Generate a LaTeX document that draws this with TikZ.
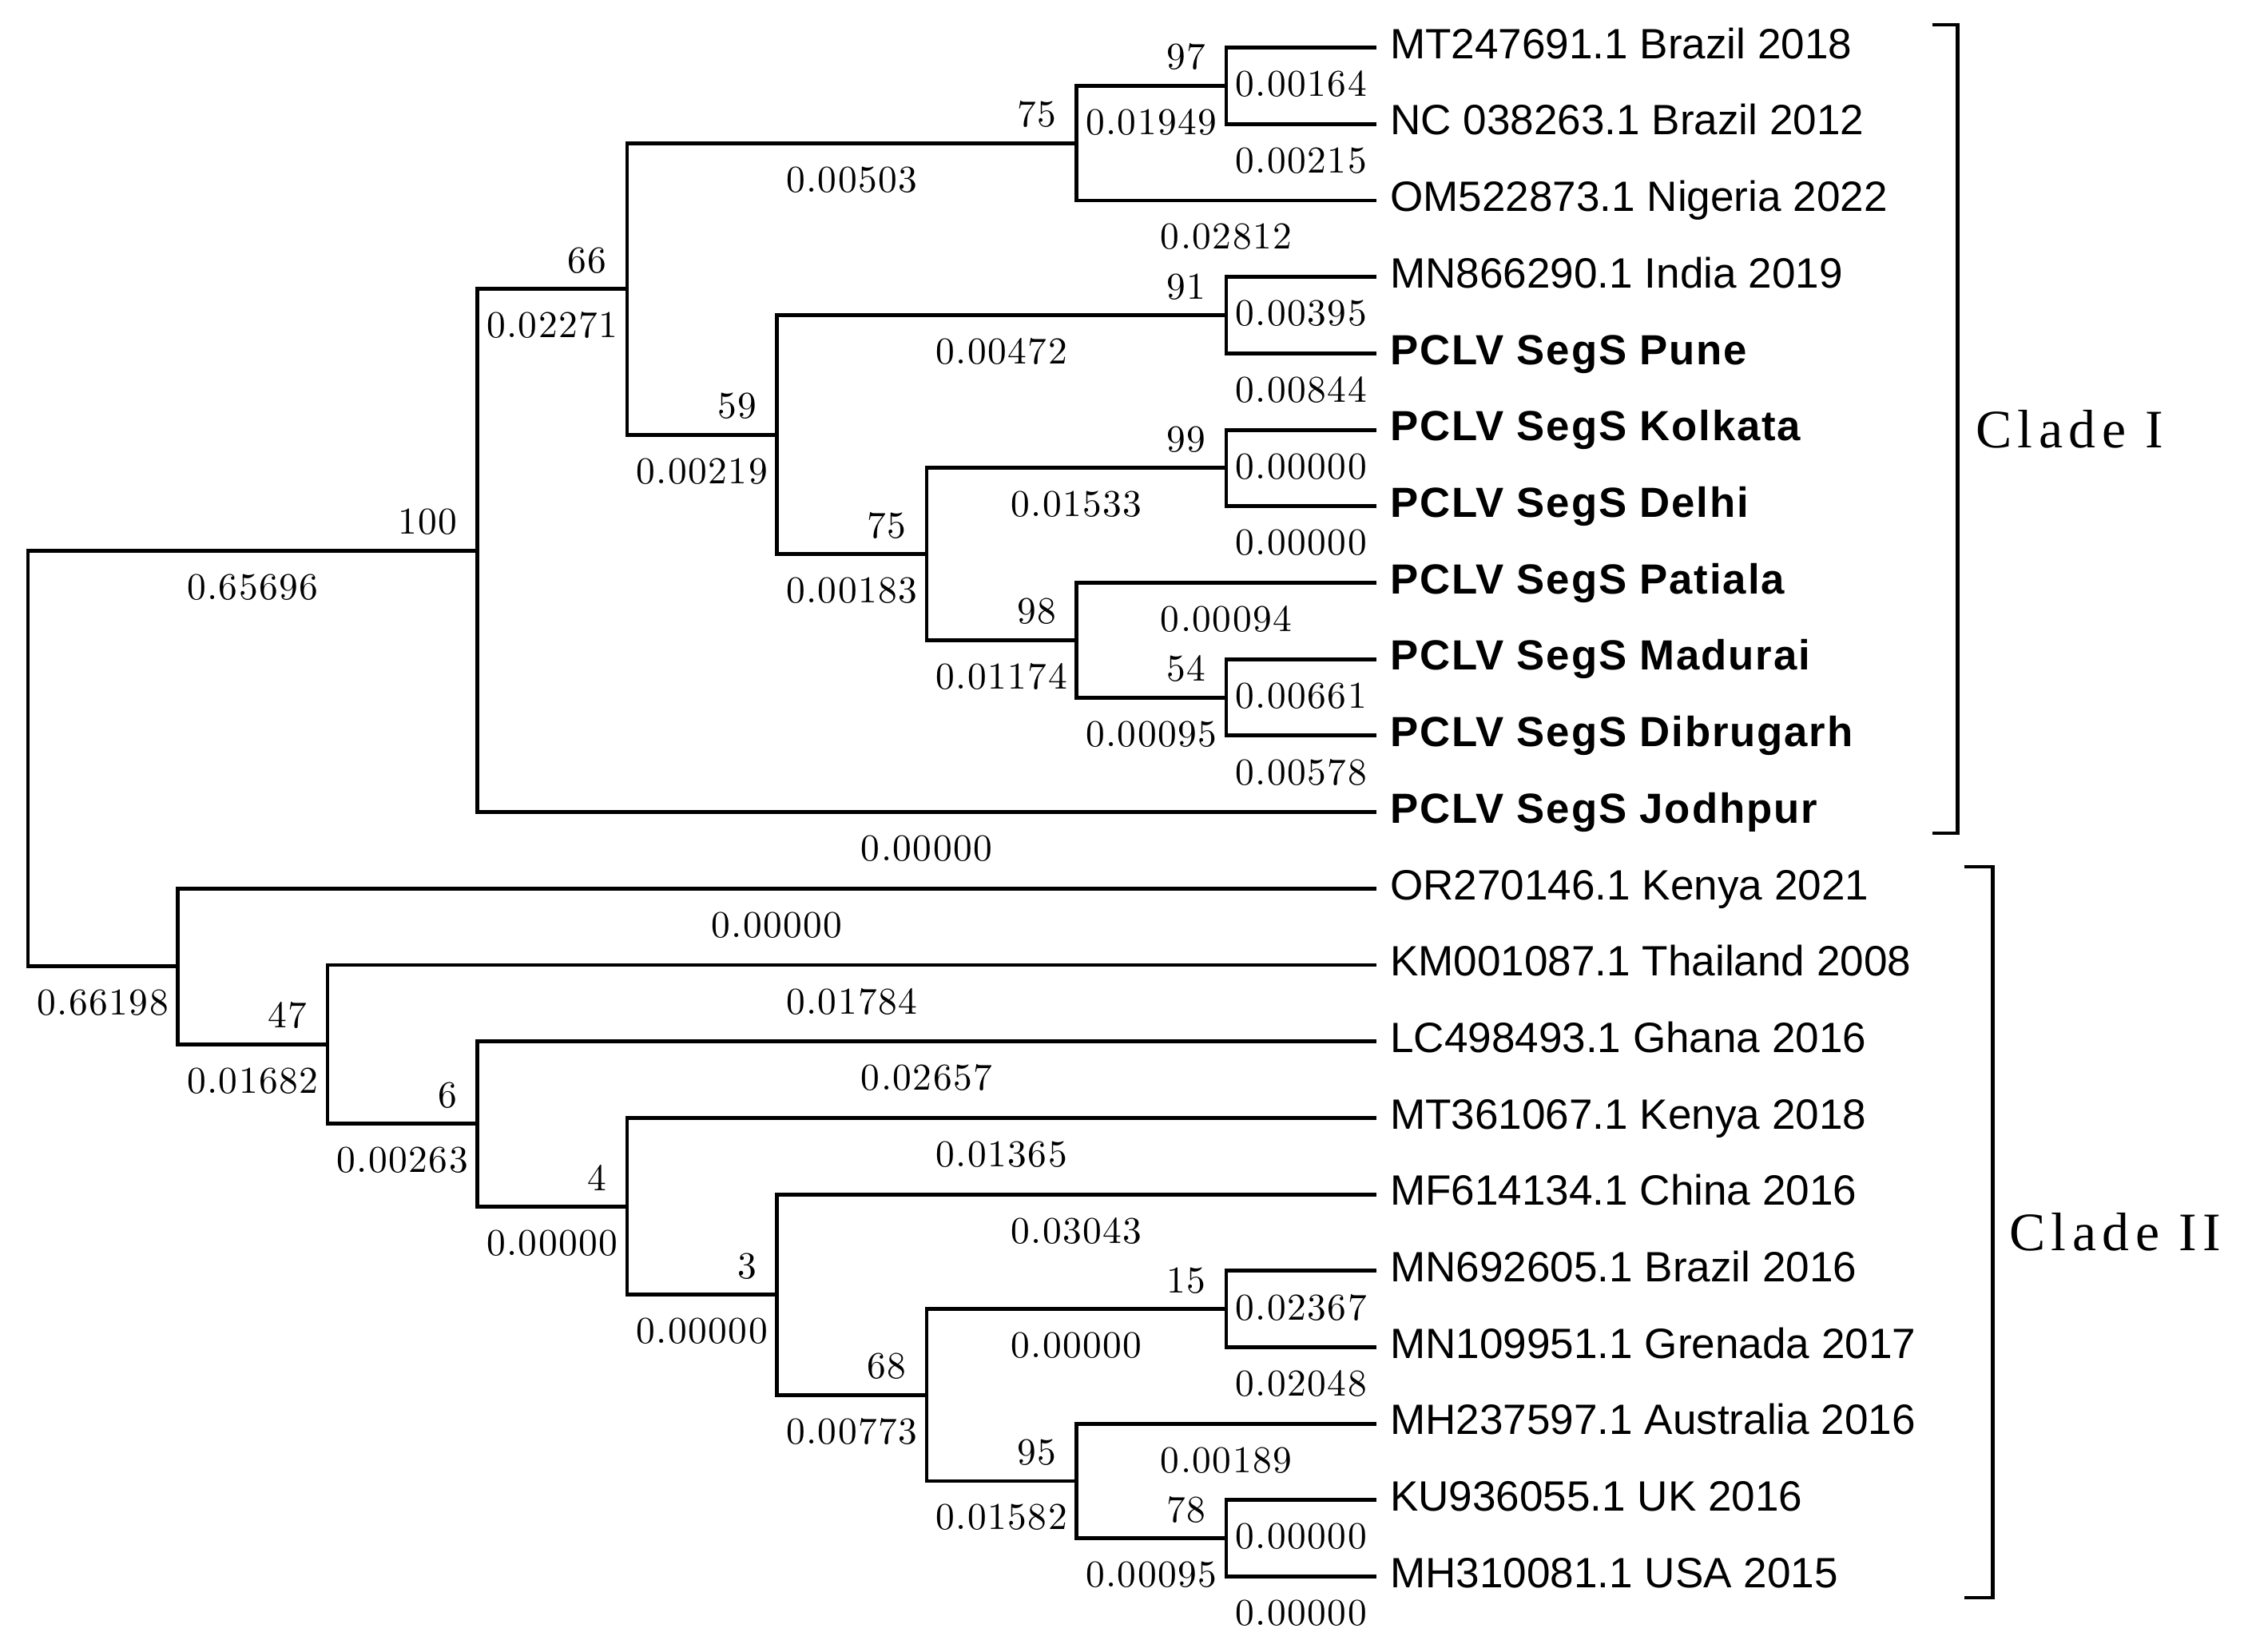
\documentclass[tikz,border=0pt]{standalone}
\usepackage{fontspec}
\usetikzlibrary{positioning, calc}
\newfontfamily\taxfont{Liberation Sans}
\newfontfamily\taxboldfont[LetterSpace=3.5]{Liberation Sans}
\newfontfamily\cladefont[LetterSpace=11]{Liberation Serif}
\newfontfamily\numfont{lmroman10-regular.otf}[LetterSpace=3]

\begin{document}
\begin{tikzpicture}[
        branch/.style={line width=1.4pt},
        blen/.style={pos=.75, yshift=-4.57mm, inner sep=0pt, font=\numfont\fontsize{13.5}{16}\selectfont},
        boot/.style={pos=1, anchor=south east, inner sep=0pt, xshift=-2.3mm, yshift=1.7mm,
            font=\numfont\fontsize{13.5}{16}\selectfont},
        taxon/.style={inner sep=0pt, text height=3.8mm, text depth=1.06mm,
            font=\taxfont\fontsize{15.1}{18}\selectfont},
        pclv/.style={taxon, font=\taxboldfont\bfseries\fontsize{15}{18}\selectfont},
        clade/.style={inner sep=0pt, font=\cladefont\fontsize{19.3}{23}\selectfont},
        bracket/.style={line width=1.4pt}
    ]
    \useasboundingbox (0,0) rectangle (28.09,-20.68);

    \begin{scope}[shift={(0.35cm,-0.596cm)}, x=1.875cm, y=-0.957cm]
        % leaf tips
        \foreach \i in {0,...,20} {\coordinate (t\i) at (9,\i);}
        % internal nodes, Clade I
        \coordinate (root) at (0,9.298828);
        \coordinate (n100) at (3,6.578125);
        \coordinate (n66) at (4,3.15625);
        \coordinate (n75u) at (7,1.25);
        \coordinate (n97) at (8,0.5);
        \coordinate (n59) at (5,5.0625);
        \coordinate (n91) at (8,3.5);
        \coordinate (n75l) at (6,6.625);
        \coordinate (n99) at (8,5.5);
        \coordinate (n98) at (7,7.75);
        \coordinate (n54) at (8,8.5);
        % internal nodes, Clade II
        \coordinate (nA) at (1,12.019531);
        \coordinate (n47) at (2,13.039063);
        \coordinate (n6) at (3,14.078125);
        \coordinate (n4) at (4,15.15625);
        \coordinate (n3) at (5,16.3125);
        \coordinate (n68) at (6,17.625);
        \coordinate (n15) at (8,16.5);
        \coordinate (n95) at (7,18.75);
        \coordinate (n78) at (8,19.5);

        \node[taxon, right=1.7mm of t0] (l0) {MT247691.1 Brazil 2018};
        \node[taxon, right=1.7mm of t1] (l1) {NC 038263.1 Brazil 2012};
        \node[taxon, right=1.7mm of t2] (l2) {OM522873.1 Nigeria 2022};
        \node[taxon, right=1.7mm of t3] (l3) {MN866290.1 India 2019};
        \node[pclv, right=1.7mm of t4] (l4) {PCLV SegS Pune};
        \node[pclv, right=1.7mm of t5] (l5) {PCLV SegS Kolkata};
        \node[pclv, right=1.7mm of t6] (l6) {PCLV SegS Delhi};
        \node[pclv, right=1.7mm of t7] (l7) {PCLV SegS Patiala};
        \node[pclv, right=1.7mm of t8] (l8) {PCLV SegS Madurai};
        \node[pclv, right=1.7mm of t9] (l9) {PCLV SegS Dibrugarh};
        \node[pclv, right=1.7mm of t10] (l10) {PCLV SegS Jodhpur};
        \node[taxon, right=1.7mm of t11] (l11) {OR270146.1 Kenya 2021};
        \node[taxon, right=1.7mm of t12] (l12) {KM001087.1 Thailand 2008};
        \node[taxon, right=1.7mm of t13] (l13) {LC498493.1 Ghana 2016};
        \node[taxon, right=1.7mm of t14] (l14) {MT361067.1 Kenya 2018};
        \node[taxon, right=1.7mm of t15] (l15) {MF614134.1 China 2016};
        \node[taxon, right=1.7mm of t16] (l16) {MN692605.1 Brazil 2016};
        \node[taxon, right=1.7mm of t17] (l17) {MN109951.1 Grenada 2017};
        \node[taxon, right=1.7mm of t18] (l18) {MH237597.1 Australia 2016};
        \node[taxon, right=1.7mm of t19] (l19) {KU936055.1 UK 2016};
        \node[taxon, right=1.7mm of t20] (l20) {MH310081.1 USA 2015};

        % Clade I
        \draw[branch] (root) |- node[blen]{0.65696} node[boot]{100} (n100);
        \draw[branch] (n100) |- node[blen]{0.02271} node[boot]{66} (n66);
        \draw[branch] (n100) |- node[blen]{0.00000} (t10);
        \draw[branch] (n66) |- node[blen]{0.00503} node[boot]{75} (n75u);
        \draw[branch] (n66) |- node[blen]{0.00219} node[boot]{59} (n59);
        \draw[branch] (n75u) |- node[blen]{0.01949} node[boot]{97} (n97);
        \draw[branch] (n75u) |- node[blen]{0.02812} (t2);
        \draw[branch] (n97) |- node[blen]{0.00164} (t0);
        \draw[branch] (n97) |- node[blen]{0.00215} (t1);
        \draw[branch] (n59) |- node[blen]{0.00472} node[boot]{91} (n91);
        \draw[branch] (n59) |- node[blen]{0.00183} node[boot]{75} (n75l);
        \draw[branch] (n91) |- node[blen]{0.00395} (t3);
        \draw[branch] (n91) |- node[blen]{0.00844} (t4);
        \draw[branch] (n75l) |- node[blen]{0.01533} node[boot]{99} (n99);
        \draw[branch] (n75l) |- node[blen]{0.01174} node[boot]{98} (n98);
        \draw[branch] (n99) |- node[blen]{0.00000} (t5);
        \draw[branch] (n99) |- node[blen]{0.00000} (t6);
        \draw[branch] (n98) |- node[blen]{0.00094} (t7);
        \draw[branch] (n98) |- node[blen]{0.00095} node[boot]{54} (n54);
        \draw[branch] (n54) |- node[blen]{0.00661} (t8);
        \draw[branch] (n54) |- node[blen]{0.00578} (t9);

        % Clade II
        \draw[branch] (root) |- node[blen]{0.66198} (nA);
        \draw[branch] (nA) |- node[blen]{0.00000} (t11);
        \draw[branch] (nA) |- node[blen]{0.01682} node[boot]{47} (n47);
        \draw[branch] (n47) |- node[blen]{0.01784} (t12);
        \draw[branch] (n47) |- node[blen]{0.00263} node[boot]{6} (n6);
        \draw[branch] (n6) |- node[blen]{0.02657} (t13);
        \draw[branch] (n6) |- node[blen]{0.00000} node[boot]{4} (n4);
        \draw[branch] (n4) |- node[blen]{0.01365} (t14);
        \draw[branch] (n4) |- node[blen]{0.00000} node[boot]{3} (n3);
        \draw[branch] (n3) |- node[blen]{0.03043} (t15);
        \draw[branch] (n3) |- node[blen]{0.00773} node[boot]{68} (n68);
        \draw[branch] (n68) |- node[blen]{0.00000} node[boot]{15} (n15);
        \draw[branch] (n68) |- node[blen]{0.01582} node[boot]{95} (n95);
        \draw[branch] (n15) |- node[blen]{0.02367} (t16);
        \draw[branch] (n15) |- node[blen]{0.02048} (t17);
        \draw[branch] (n95) |- node[blen]{0.00189} (t18);
        \draw[branch] (n95) |- node[blen]{0.00095} node[boot]{78} (n78);
        \draw[branch] (n78) |- node[blen]{0.00000} (t19);
        \draw[branch] (n78) |- node[blen]{0.00000} (t20);
    \end{scope}

    % clade brackets
    \coordinate (c1t) at ($(t0)+(7.28cm,0.286cm)$);
    \coordinate (c1b) at ($(t10)+(7.28cm,-0.264cm)$);
    \coordinate (c1m) at ($(c1t)!.5!(c1b)$);
    \coordinate (c2t) at ($(t11)+(7.72cm,0.273cm)$);
    \coordinate (c2b) at ($(t20)+(7.72cm,-0.264cm)$);
    \coordinate (c2m) at ($(c2t)!.5!(c2b)$);

    \draw[bracket] ([xshift=-3.2mm]c1t) -- (c1t) -- (c1b) -- ([xshift=-3.2mm]c1b);
    \draw[bracket] ([xshift=-3.6mm]c2t) -- (c2t) -- (c2b) -- ([xshift=-3.6mm]c2b);
    \node[clade, right=2.2mm of c1m] (cladeI) {Clade I};
    \node[clade, right=2mm of c2m] (cladeII) {Clade II};
\end{tikzpicture}
\end{document}
